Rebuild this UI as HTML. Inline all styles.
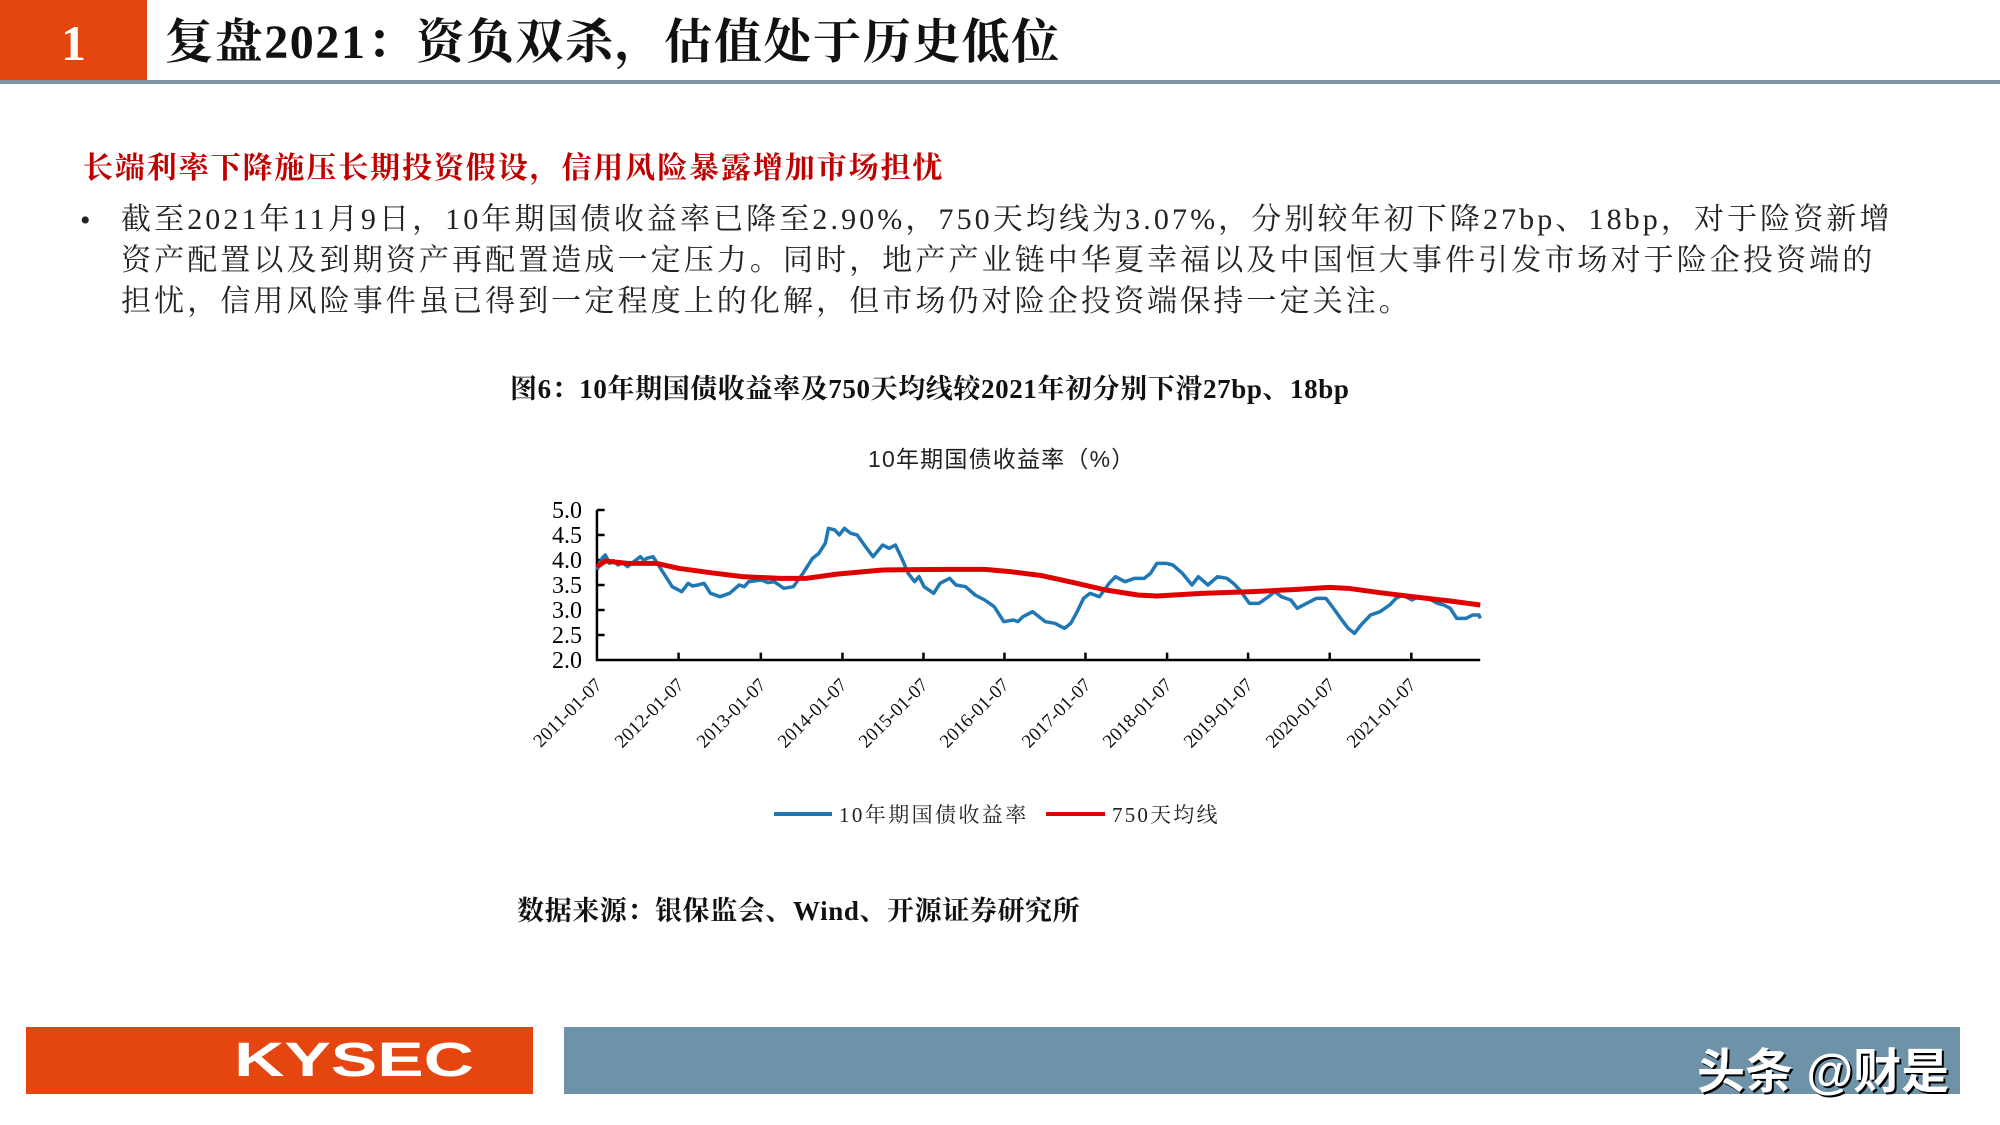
<!DOCTYPE html>
<html><head><meta charset="utf-8"><style>
body{margin:0;width:2000px;height:1125px;background:#fff;position:relative;overflow:hidden;font-family:"Liberation Serif","Noto Serif CJK SC",serif;}
.abs{position:absolute;white-space:nowrap;}
</style></head><body>
<div class="abs" style="left:0;top:0;width:147px;height:80px;background:#E5450F;"></div>
<div class="abs" style="left:0;top:8px;width:147px;text-align:center;color:#fff;font-size:50px;line-height:70px;font-weight:bold;">1</div>
<div class="abs" style="left:0;top:80px;width:2000px;height:4px;background:#7f95a5;"></div>
<div class="abs" style="left:165px;top:13px;font-size:48px;line-height:60px;font-weight:bold;color:#111;letter-spacing:1.6px;">复盘2021：资负双杀，估值处于历史低位</div>
<div class="abs" style="left:83px;top:143px;font-size:30px;font-weight:bold;color:#C00000;letter-spacing:1.9px;">长端利率下降施压长期投资假设，信用风险暴露增加市场担忧</div>
<div class="abs" style="left:80px;top:200px;font-size:30px;line-height:41px;color:#222;">•</div>
<div class="abs" style="left:121px;top:199px;font-size:30px;line-height:41px;color:#222;letter-spacing:3.1px;">截至2021年11月9日，10年期国债收益率已降至2.90%，750天均线为3.07%，分别较年初下降27bp、18bp，对于险资新增<br>资产配置以及到期资产再配置造成一定压力。同时，地产产业链中华夏幸福以及中国恒大事件引发市场对于险企投资端的<br>担忧，信用风险事件虽已得到一定程度上的化解，但市场仍对险企投资端保持一定关注。</div>
<div class="abs" style="left:510px;top:367px;font-size:27px;font-weight:bold;color:#111;letter-spacing:0.6px;">图6：10年期国债收益率及750天均线较2021年初分别下滑27bp、18bp</div>
<div class="abs" style="left:868px;top:440px;font-size:23px;color:#222;letter-spacing:1.2px;font-family:'Liberation Sans','Noto Sans CJK SC',sans-serif;">10年期国债收益率（%）</div>

<svg class="abs" style="left:500px;top:430px" width="1000" height="250" viewBox="0 0 1568 750" preserveAspectRatio="none">
<g fill="none" stroke="#000" stroke-width="2.5">
<path vector-effect="non-scaling-stroke" d="M152 240V690H1537"/>
<path vector-effect="non-scaling-stroke" d="M152 240h12M152 315h12M152 390h12M152 465h12M152 540h12M152 615h12"/>
<path vector-effect="non-scaling-stroke" d="M280 690v-22M409 690v-22M537 690v-22M664 690v-22M791 690v-22M918 690v-22M1046 690v-22M1173 690v-22M1301 690v-22M1429 690v-22"/>
</g>
<polyline vector-effect="non-scaling-stroke" fill="none" stroke="#1F77B4" stroke-width="3.5" stroke-linejoin="round" points="152,420 160,385 165,375 172,400 178,392 185,405 192,398 200,410 210,395 220,380 226,392 230,385 240,380 250,410 260,440 270,470 285,485 295,460 302,468 310,465 320,460 330,490 345,500 360,490 375,465 383,470 390,455 410,450 420,458 430,455 445,475 460,470 475,430 490,385 500,370 510,340 515,295 525,300 532,315 540,295 550,310 560,315 575,355 585,380 600,345 610,355 620,345 630,385 640,430 650,455 657,440 665,470 680,490 690,460 705,445 715,465 730,470 745,495 760,510 775,530 790,575 805,570 812,575 820,560 835,545 845,560 855,575 870,580 885,595 895,580 905,545 915,505 925,490 940,500 955,460 965,440 980,455 995,445 1010,445 1020,430 1030,400 1045,400 1055,405 1070,430 1085,465 1095,440 1110,465 1125,440 1140,445 1150,460 1160,480 1175,520 1190,520 1205,500 1215,485 1225,500 1240,510 1250,535 1265,520 1280,505 1295,505 1305,530 1320,570 1330,595 1340,610 1350,585 1365,555 1380,545 1395,525 1405,505 1415,495 1430,510 1440,500 1455,505 1470,520 1480,525 1490,535 1500,565 1515,565 1525,555 1535,555 1537,565"/>
<polyline vector-effect="non-scaling-stroke" fill="none" stroke="#E00000" stroke-width="5" stroke-linejoin="round" points="152,410 165,393 200,400 245,400 280,415 330,428 380,440 440,445 480,445 530,432 600,420 700,418 760,418 800,425 850,437 900,458 950,480 1000,495 1030,498 1100,490 1180,485 1250,478 1300,472 1330,475 1380,488 1430,500 1490,513 1537,525"/>
</svg>
<div class="abs" style="left:530px;top:499px;width:52px;text-align:right;font-size:24px;line-height:25px;color:#000;">5.0<br>4.5<br>4.0<br>3.5<br>3.0<br>2.5<br>2.0</div>
<svg class="abs" style="left:500px;top:670px" width="1000" height="110">
<g font-family="Liberation Serif" font-size="19" text-anchor="end" fill="#111">
<text transform="translate(103,16) rotate(-45)">2011-01-07</text>
<text transform="translate(185,16) rotate(-45)">2012-01-07</text>
<text transform="translate(267,16) rotate(-45)">2013-01-07</text>
<text transform="translate(348,16) rotate(-45)">2014-01-07</text>
<text transform="translate(429,16) rotate(-45)">2015-01-07</text>
<text transform="translate(510,16) rotate(-45)">2016-01-07</text>
<text transform="translate(592,16) rotate(-45)">2017-01-07</text>
<text transform="translate(673,16) rotate(-45)">2018-01-07</text>
<text transform="translate(754,16) rotate(-45)">2019-01-07</text>
<text transform="translate(836,16) rotate(-45)">2020-01-07</text>
<text transform="translate(917,16) rotate(-45)">2021-01-07</text>
</g></svg>
<div class="abs" style="left:774px;top:812px;width:58px;height:4px;background:#1F77B4;"></div>
<div class="abs" style="left:839px;top:799px;font-size:21px;color:#222;letter-spacing:2.4px;">10年期国债收益率</div>
<div class="abs" style="left:1046px;top:812px;width:59px;height:4px;background:#E00000;"></div>
<div class="abs" style="left:1112px;top:799px;font-size:21px;color:#222;letter-spacing:2.2px;">750天均线</div>
<div class="abs" style="left:517px;top:889px;font-size:27px;font-weight:bold;color:#111;letter-spacing:0.6px;">数据来源：银保监会、Wind、开源证券研究所</div>
<div class="abs" style="left:26px;top:1027px;width:507px;height:67px;background:#E5450F;"></div>
<div class="abs" style="left:204px;top:1027px;width:300px;text-align:center;line-height:67px;color:#fff;font-size:48px;font-weight:bold;font-family:'Liberation Sans',sans-serif;transform:scaleX(1.45);transform-origin:center;">KYSEC</div>
<div class="abs" style="left:564px;top:1027px;width:1396px;height:67px;background:#6E93A8;"></div>
<div class="abs" style="left:1697px;top:1032px;font-size:48px;font-weight:bold;color:#fff;font-family:'Liberation Sans','Noto Sans CJK SC',sans-serif;text-shadow:2px 2px 0 #000;">头条 @财是</div>
</body></html>
